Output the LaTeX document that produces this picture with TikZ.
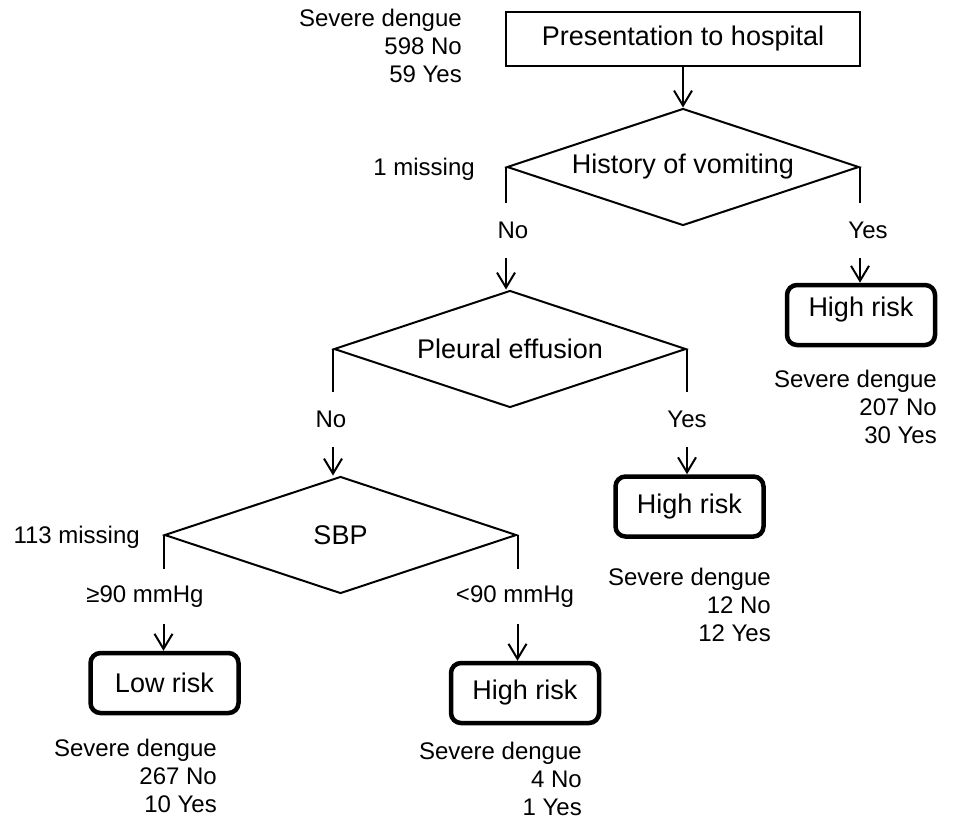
\documentclass[tikz,border=0pt]{standalone}
\usepackage{fontspec}
\setmainfont{Liberation Sans}
\usetikzlibrary{arrows.meta,positioning,shapes.geometric}
\newcommand{\boxfnt}{\fontsize{27}{32}\selectfont}
\newcommand{\annfnt}{\fontsize{24}{28}\selectfont}
\tikzset{
  startbox/.style={rectangle, draw, line width=2.4pt, minimum width=354pt, minimum height=54pt,
                   inner sep=4pt, font=\boxfnt},
  decision/.style={diamond, draw, line width=2pt, shape aspect=3, minimum width=352pt,
                   minimum height=117pt, inner sep=0pt, font=\boxfnt},
  riskbox/.style={rectangle, rounded corners=10pt, draw, line width=4.5pt, minimum width=148pt,
                  minimum height=60pt, inner sep=4pt, font=\boxfnt},
  note/.style={align=right, inner sep=0pt, font=\annfnt},
  lbl/.style={inner sep=0pt, minimum height=55pt, font=\annfnt},
  link/.style={line width=2pt},
  arr/.style={-{Straight Barb[length=15pt,width=18pt]}, line width=2pt},
}
\begin{document}
\begin{tikzpicture}[x=1pt, y=-1pt]
  \useasboundingbox (0,0) rectangle (953,823);
  % questions
  \node[startbox] (start) at (683,39) {Presentation to hospital};
  \node[decision] (vomit) at (683,167) {History of vomiting};
  \node[decision] (pleural) at (510,349) {Pleural effusion};
  \node[decision] (sbp) at (340.5,535) {SBP};
  % outcomes
  \node[riskbox, text depth=17pt] (hrv) at (861,315) {High risk};
  \node[riskbox] (hrp) at (689.5,506.5) {High risk};
  \node[riskbox] (low) at (164.5,683) {Low risk};
  \node[riskbox] (hrs) at (525,693) {High risk};
  % counts
  \node[note, anchor=north east] (n0) at (462,9) {Severe dengue\\598 No\\59 Yes};
  \node[note, anchor=north east] (n1) at (937,370) {Severe dengue\\207 No\\30 Yes};
  \node[note, anchor=north east] (n2) at (771,568) {Severe dengue\\12 No\\12 Yes};
  \node[note, anchor=north east] (n3) at (217,739) {Severe dengue\\267 No\\10 Yes};
  \node[note, anchor=north east] (n4) at (582,742) {Severe dengue\\4 No\\1 Yes};
  \node[note, anchor=east] (m1) at (475,169) {1 missing};
  \node[note, anchor=east] (m2) at (140,537) {113 missing};
  % branch labels
  \node[lbl] (vno) at (513,230.5) {No};
  \node[lbl] (vyes) at (868,230.5) {Yes};
  \node[lbl] (pno) at (331,419.5) {No};
  \node[lbl] (pyes) at (687,419.5) {Yes};
  \node[lbl] (sge) at (145,596.5) {≥90 mmHg};
  \node[lbl] (slt) at (515,596.5) {<90 mmHg};
  % connectors
  \draw[arr] (start) -- (vomit);
  \draw[link] (vomit.west) -- (vomit.west |- vno.north);
  \draw[arr] (vomit.west |- vno.south) -- (vomit.west |- pleural.north);
  \draw[link] (vomit.east) -- (vomit.east |- vyes.north);
  \draw[arr] (vomit.east |- vyes.south) -- (vomit.east |- hrv.north);
  \draw[link] (pleural.west) -- (pleural.west |- pno.north);
  \draw[arr] (pleural.west |- pno.south) -- (pleural.west |- sbp.north);
  \draw[link] (pleural.east) -- (pleural.east |- pyes.north);
  \draw[arr] (pleural.east |- pyes.south) -- (pleural.east |- hrp.north);
  \draw[link] (sbp.west) -- (sbp.west |- sge.north);
  \draw[arr] (sbp.west |- sge.south) -- (sbp.west |- low.north);
  \draw[link] (sbp.east) -- (sbp.east |- slt.north);
  \draw[arr] (sbp.east |- slt.south) -- (sbp.east |- hrs.north);
\end{tikzpicture}
\end{document}
